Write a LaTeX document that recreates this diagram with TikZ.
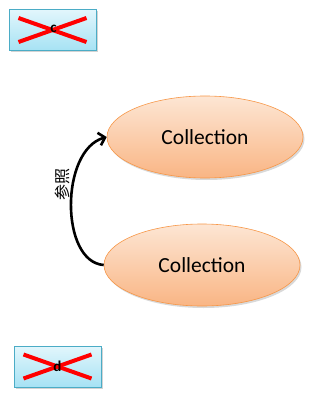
\documentclass[tikz,border=0pt]{standalone}
\usepackage{fontspec}
\setmainfont{Carlito}
\newfontfamily\cjk{Noto Sans CJK SC}
\usetikzlibrary{shadows,arrows.meta,calc,shapes.geometric}
\definecolor{boxtop}{HTML}{E2F6FC}
\definecolor{boxbot}{HTML}{A6E2F4}
\definecolor{boxline}{HTML}{4BACC6}
\definecolor{elltop}{HTML}{FDE6D4}
\definecolor{ellbot}{HTML}{F9B584}
\definecolor{ellline}{HTML}{F79646}
\tikzset{
  xbox/.style={draw=boxline, line width=0.8pt, top color=boxtop, bottom color=boxbot,
    minimum width=87pt, minimum height=41pt, inner sep=0pt,
    drop shadow={shadow xshift=1.5pt, shadow yshift=-2pt, opacity=0.35}},
  coll/.style={ellipse, draw=ellline, line width=0.6pt, top color=elltop, bottom color=ellbot,
    minimum width=196pt, minimum height=82pt, inner sep=0pt,
    font=\fontsize{21.5}{25}\selectfont,
    drop shadow={shadow xshift=1.5pt, shadow yshift=-2pt, opacity=0.3}},
  cross/.style={red, line width=4pt},
  letter/.style={font=\bfseries\fontsize{15}{17}\selectfont, inner sep=0pt},
}
\begin{document}
\begin{tikzpicture}[x=1pt,y=-1pt]
\useasboundingbox (0,0) rectangle (323,409);
\node[xbox] (c) at (52.5,30) {};
\draw[cross] ($(c.center)+(-34,12)$) -- ($(c.center)+(34,-12)$);
\draw[cross] ($(c.center)+(-34,-12)$) -- ($(c.center)+(34,12)$);
\node[letter] (cl) at ($(c.center)+(1,-1)$) {c};
\node[xbox] (d) at (57.5,366.5) {};
\draw[cross] ($(d.center)+(-34,12)$) -- ($(d.center)+(34,-12)$);
\draw[cross] ($(d.center)+(-34,-12)$) -- ($(d.center)+(34,12)$);
\node[letter] (dl) at (d.center) {d};
\node[coll] (e1) at (205,137) {Collection};
\node[coll] (e2) at (202,265) {Collection};
\draw[line width=2.6pt, -{Straight Barb[length=6pt,width=13pt]}] (e2.west) .. controls (60,262) and (60,150) .. (e1.west);
\node[rotate=90, font=\cjk\fontsize{16}{18}\selectfont] (lab) at (62,184) {参照};
\end{tikzpicture}
\end{document}
